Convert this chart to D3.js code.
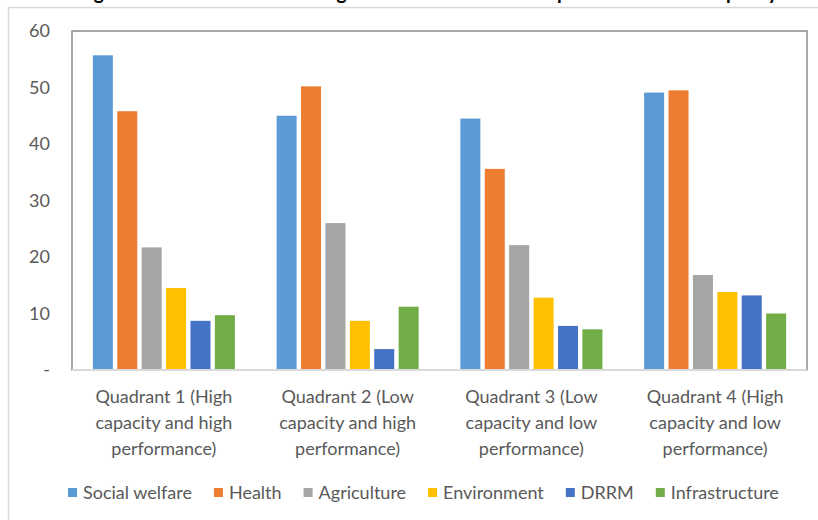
<!DOCTYPE html>
<html><head><meta charset="utf-8">
<script src="https://cdn.jsdelivr.net/npm/d3@7"></script>
<style>
body{margin:0;background:#fff;}
text{font-family:Lato,"Liberation Sans",sans-serif;}
</style></head>
<body>
<svg id="chart" width="818" height="520"></svg>
<script>
// ---- data ----
const categories = ["Quadrant 1", "Quadrant 2", "Quadrant 3", "Quadrant 4"];
const categoryLabels = [
  ["Quadrant 1 (High", "capacity and high", "performance)"],
  ["Quadrant 2 (Low", "capacity and high", "performance)"],
  ["Quadrant 3 (Low", "capacity and low", "performance)"],
  ["Quadrant 4 (High", "capacity and low", "performance)"]
];
const seriesNames = ["Social welfare", "Health", "Agriculture", "Environment", "DRRM", "Infrastructure"];
const socialWelfare  = [55.7, 45.0, 44.5, 49.1];
const health         = [45.8, 50.2, 35.6, 49.5];
const agriculture    = [21.7, 26.0, 22.1, 16.8];
const environment    = [14.5, 8.7, 12.8, 13.8];
const drrm           = [8.7, 3.7, 7.8, 13.2];
const infrastructure = [9.7, 11.2, 7.2, 10.0];
const seriesColors = ["#5B9BD5", "#ED7D31", "#A5A5A5", "#FFC000", "#4472C4", "#70AD47"];
const yTicks = [0, 10, 20, 30, 40, 50, 60];
const titleText = "Figure 4. Share of sectoral budget allocation across LGU performance and capacity";

const seriesValues = [socialWelfare, health, agriculture, environment, drrm, infrastructure];

// ---- layout ----
const svg = d3.select("#chart");
const plot = {left: 72, top: 31, right: 807, bottom: 370};

// outer chart border
svg.append("rect").attr("x", 8.5).attr("y", 7.5).attr("width", 830).attr("height", 530)
  .attr("fill", "#fff").attr("stroke", "#d9d9d9").attr("stroke-width", 1.5);

// cut-off title
svg.append("text").attr("x", 78).attr("y", -1)
  .attr("font-size", 20).attr("font-weight", "bold").attr("fill", "#000")
  .attr("textLength", 700).attr("lengthAdjust", "spacingAndGlyphs")
  .text(titleText);

const x0 = d3.scaleBand().domain(categories).range([plot.left, plot.right])
  .paddingInner(0.227).paddingOuter(0.1135);
const x1 = d3.scaleBand().domain(seriesNames).range([0, x0.bandwidth()])
  .paddingInner(0.18).paddingOuter(0);
const y = d3.scaleLinear().domain([0, 60]).range([plot.bottom, plot.top]);

// plot area border
svg.append("rect").attr("x", plot.left).attr("y", plot.top)
  .attr("width", plot.right - plot.left).attr("height", plot.bottom - plot.top)
  .attr("fill", "none").attr("stroke", "#8c8c8c").attr("stroke-width", 1.5);

// bars
const groups = svg.append("g").selectAll("g").data(categories).join("g")
  .attr("transform", d => `translate(${x0(d)},0)`);
groups.selectAll("rect")
  .data((c, ci) => seriesNames.map((s, si) => ({s, si, v: seriesValues[si][ci]})))
  .join("rect")
  .attr("x", d => x1(d.s))
  .attr("y", d => y(d.v))
  .attr("width", x1.bandwidth())
  .attr("height", d => y(0) - y(d.v))
  .attr("fill", d => seriesColors[d.si]);

// x axis line
svg.append("line").attr("x1", plot.left).attr("x2", plot.right)
  .attr("y1", plot.bottom).attr("y2", plot.bottom)
  .attr("stroke", "#d9d9d9").attr("stroke-width", 2);

// y axis
const yAxis = d3.axisLeft(y).tickValues(yTicks).tickSize(0).tickPadding(22)
  .tickFormat(d => d === 0 ? "-" : d3.format("d")(d));
const gy = svg.append("g").attr("transform", `translate(${plot.left},0)`).call(yAxis);
gy.select(".domain").remove();
gy.selectAll("text").attr("font-size", 18).attr("fill", "#595959")
  .style("font-family", "Lato, 'Liberation Sans', sans-serif");

// category labels
const xl = svg.append("g");
categories.forEach((c, i) => {
  const t = xl.append("text").attr("text-anchor", "middle")
    .attr("font-size", 18).attr("fill", "#595959");
  categoryLabels[i].forEach((line, li) => {
    t.append("tspan").attr("x", x0(c) + x0.bandwidth() / 2)
      .attr("y", 403 + li * 26).text(line);
  });
});

// legend
const lg = svg.append("g");
let lx = 68;
seriesNames.forEach((s, i) => {
  lg.append("rect").attr("x", lx).attr("y", 488).attr("width", 9).attr("height", 9)
    .attr("fill", seriesColors[i]);
  const t = lg.append("text").attr("x", lx + 15).attr("y", 499)
    .attr("font-size", 18).attr("fill", "#595959").text(s);
  lx += 15 + t.node().getComputedTextLength() + 22;
});
</script>
</body></html>
